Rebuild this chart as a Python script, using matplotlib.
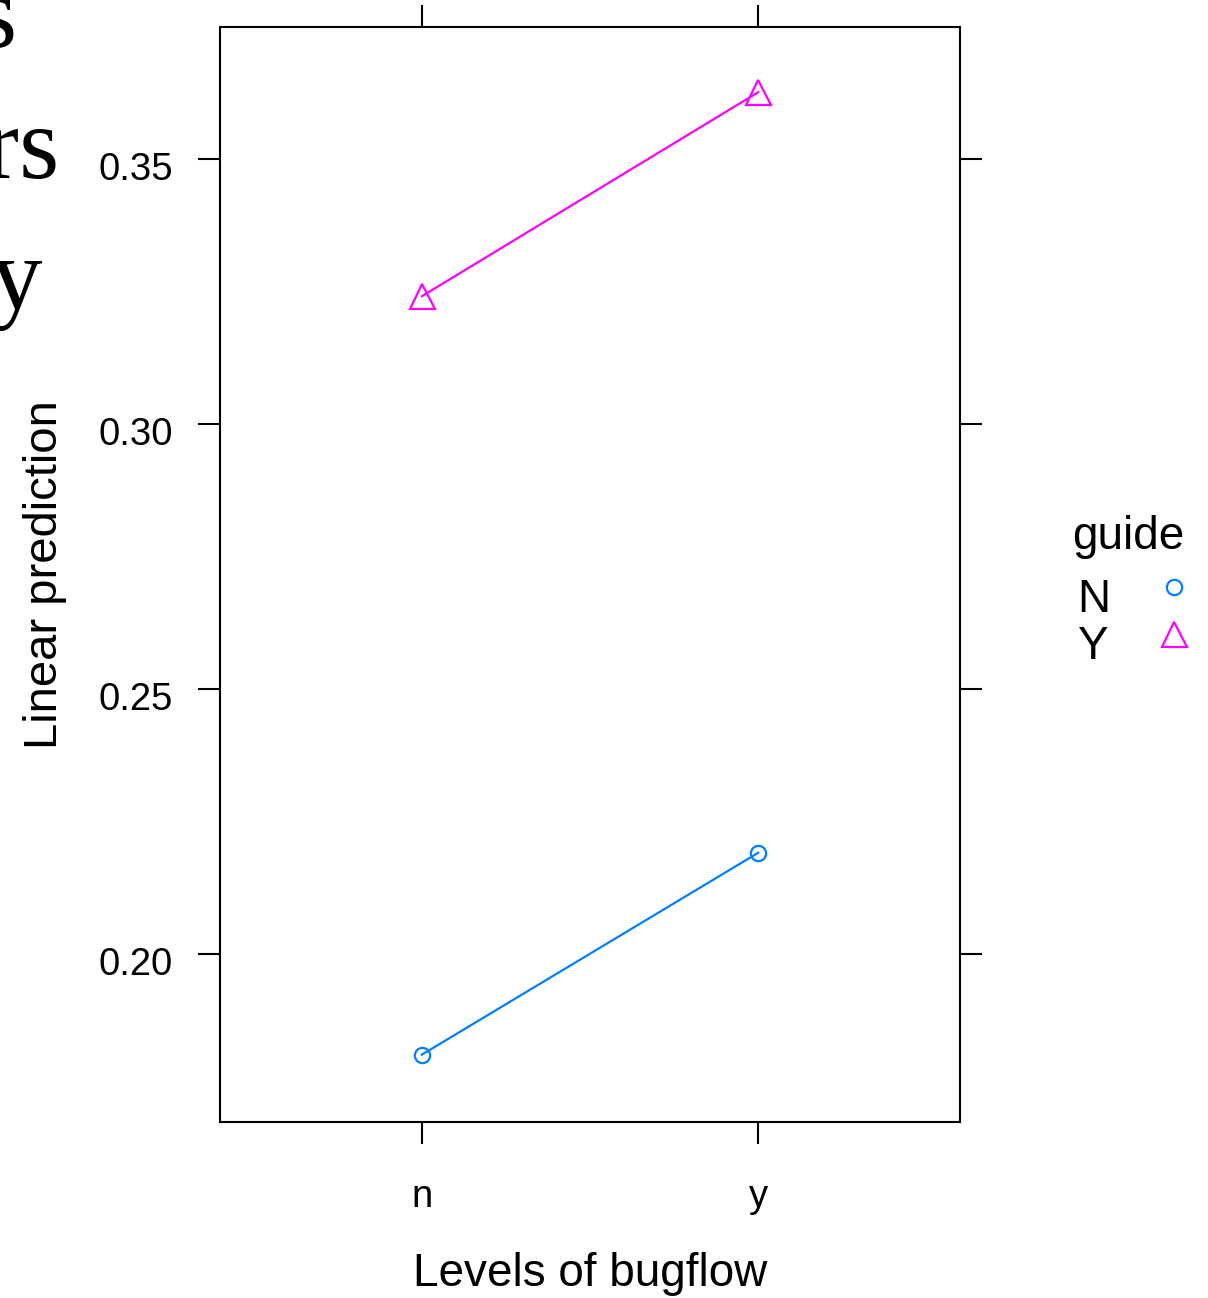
import matplotlib
matplotlib.use("Agg")
import matplotlib.pyplot as plt
from matplotlib.lines import Line2D
from matplotlib.transforms import ScaledTranslation

# ---- data ----
bugflow_levels = ["n", "y"]
guide_levels = ["N", "Y"]
pred_N = [0.1810, 0.2191]
pred_Y = [0.3241, 0.3626]
yticks = [0.20, 0.25, 0.30, 0.35]
ytick_labels = ["0.20", "0.25", "0.30", "0.35"]
colors = {"N": "#0080FF", "Y": "#FF00FF"}
markers = {"N": "o", "Y": "^"}
msizes = {"N": 11, "Y": 18}

plt.rcParams["font.family"] = ["Liberation Sans", "DejaVu Sans"]

W, H = 1208, 1298
fig = plt.figure(figsize=(W / 100, H / 100), dpi=100)
ax = fig.add_axes([220 / W, (H - 1122) / H, 740 / W, 1095 / H])

xpos = list(range(1, len(bugflow_levels) + 1))
for g, vals in zip(guide_levels, [pred_N, pred_Y]):
    ax.plot(xpos, vals, color=colors[g], lw=1.6, marker=markers[g],
            markersize=msizes[g], markerfacecolor="none",
            markeredgecolor=colors[g], markeredgewidth=1.6,
            label=g)

ax.set_xlim(0.4, 2.6)
ax.set_ylim(0.1683, 0.3749)
ax.set_xticks(xpos)
ax.set_xticklabels(bugflow_levels)
ax.set_yticks(yticks)
ax.set_yticklabels(ytick_labels)

for s in ax.spines.values():
    s.set_linewidth(1.5)
ax.tick_params(direction="out", length=16, width=1.5, top=True, right=True,
               labeltop=False, labelright=False, labelsize=27.5)
ax.tick_params(axis="y", pad=18)
ax.tick_params(axis="x", pad=25)
off = ScaledTranslation(0, -7 / 100, fig.dpi_scale_trans)
for lab in ax.get_yticklabels():
    lab.set_transform(lab.get_transform() + off)

ax.set_xlabel("Levels of bugflow", fontsize=33)
ax.set_ylabel("Linear prediction", fontsize=34)
ax.xaxis.set_label_coords(0.5, -0.1185)
ax.yaxis.set_label_coords(-0.207, 0.5)

# legend ("guide") at the right
fig.text(1072 / W, 1 - 549 / H, "guide", fontsize=33, ha="left", va="baseline")
label_baselines = {"N": 612, "Y": 659}
marker_centres = {"N": 587, "Y": 634}
for g in guide_levels:
    fig.text(1077 / W, 1 - label_baselines[g] / H, g, fontsize=33,
             ha="left", va="baseline")
    fig.add_artist(Line2D([1174 / W], [1 - marker_centres[g] / H],
                          transform=fig.transFigure, linestyle="none",
                          marker=markers[g], markersize=msizes[g],
                          markerfacecolor="none", markeredgecolor=colors[g],
                          markeredgewidth=1.6))

# partial large serif text cut off at the left edge
serif = ["Liberation Serif", "DejaVu Serif"]
fig.text(17 / W, 1 - 47 / H, "s", fontsize=74, family=serif, ha="right", va="baseline")
fig.text(59 / W, 1 - 178 / H, "rs", fontsize=74, family=serif, ha="right", va="baseline")
fig.text(42 / W, 1 - 309 / H, "y", fontsize=74, family=serif, ha="right", va="baseline")

fig.savefig("out.png", dpi=100)
